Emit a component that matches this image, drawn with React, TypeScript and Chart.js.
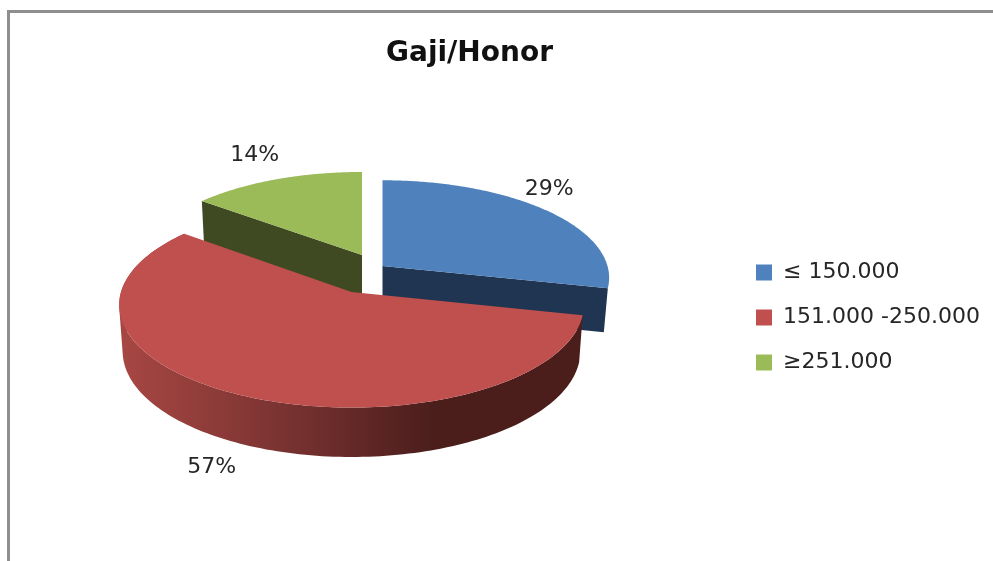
import React, { useEffect, useRef } from "react";
import { Chart, registerables } from "chart.js";

Chart.register(...registerables);

const categories = ["≤ 150.000", "151.000 -250.000", "≥251.000"];
const shares = [28.6, 57.1, 14.3];
const topColors = ["#4F81BD", "#C0504D", "#9BBB59"];
const sideColors = ["#1F3552", "#4B1E1C", "#3F4A22"];
const chartTitle = "Gaji/Honor";

// Projection of the unit pie onto the tilted 3D view, one per exploded slice
const views = [
  { cx: 382.5, k: 0.12, top: { a: 225, b: 96, y: 266 }, low: { a: 221, b: 96, y: 310 }, label: [3, -21] },
  { cx: 351.5, k: 0.126, top: { a: 230.5, b: 101, y: 292 }, low: { a: 227, b: 104, y: 338 }, label: [-27, 73] },
  { cx: 362, k: 0.12, top: { a: 220, b: 93, y: 255 }, low: { a: 216, b: 92, y: 312 }, label: [-21, -24] },
];
const drawOrder = [2, 0, 1];
const FONT = '"DejaVu Sans", sans-serif';

type Face = { a: number; b: number; y: number };
function project(cx: number, k: number, f: Face, theta: number, r = 1): [number, number] {
  const u = Math.sin(theta) * r;
  const v = -Math.cos(theta) * r;
  const w = 1 - k * v;
  return [cx + (f.a * u) / w, f.y + (f.b * v) / w];
}

const pie3d = {
  id: "pie3d",
  afterLayout(chart: any) {
    const t = chart.titleBlock;
    t.left = 69.5;
    t.right = 869.5;
    t.top = 54 - t.height / 2;
    t.bottom = t.top + t.height;
    const l = chart.legend;
    const w = l.width;
    const h = l.height;
    l.left = 733;
    l.right = 733 + w;
    l.top = 317.5 - h / 2;
    l.bottom = l.top + h;
  },
  beforeDatasetDraw(chart: any, args: any) {
    const ctx: CanvasRenderingContext2D = chart.ctx;
    const arcs = args.meta.data;
    for (const i of drawOrder) {
      const arc = arcs[i];
      const view = views[i];
      const s = arc.startAngle + Math.PI / 2;
      const e = arc.endAngle + Math.PI / 2;
      const steps = 160;
      const rim = (f: Face) => {
        const pts: [number, number][] = [];
        for (let n = 0; n <= steps; n++) pts.push(project(view.cx, view.k, f, s + ((e - s) * n) / steps));
        return pts;
      };
      const topRim = rim(view.top);
      const lowRim = rim(view.low);
      if (i === 1) {
        const g = ctx.createLinearGradient(118, 0, 450, 0);
        g.addColorStop(0, "#A84743");
        g.addColorStop(0.45, "#7E3533");
        g.addColorStop(0.95, sideColors[1]);
        ctx.fillStyle = g;
        ctx.beginPath();
        // sweep the rim downward so the outline is the full extruded silhouette
        for (let n = 0; n < steps; n++) {
          const q = [topRim[n], topRim[n + 1], lowRim[n + 1], lowRim[n]];
          let area = 0;
          q.forEach((p, j) => {
            const o = q[(j + 1) % 4];
            area += p[0] * o[1] - o[0] * p[1];
          });
          const poly = area < 0 ? [...q].reverse() : q;
          ctx.moveTo(poly[0][0], poly[0][1]);
          for (let j = 1; j < 4; j++) ctx.lineTo(poly[j][0], poly[j][1]);
          ctx.closePath();
        }
        ctx.fill();
      } else {
        // the cut face that looks at the viewer
        const idx = i === 0 ? steps : 0;
        ctx.fillStyle = sideColors[i];
        ctx.beginPath();
        ctx.moveTo(view.cx, view.top.y);
        ctx.lineTo(topRim[idx][0], topRim[idx][1]);
        ctx.lineTo(lowRim[idx][0], lowRim[idx][1]);
        ctx.lineTo(view.cx, view.low.y);
        ctx.closePath();
        ctx.fill();
      }
      ctx.fillStyle = topColors[i];
      ctx.beginPath();
      ctx.moveTo(view.cx, view.top.y);
      topRim.forEach((p) => ctx.lineTo(p[0], p[1]));
      ctx.closePath();
      ctx.fill();
    }
    return false;
  },
  afterDatasetsDraw(chart: any) {
    const ctx: CanvasRenderingContext2D = chart.ctx;
    const arcs = chart.getDatasetMeta(0).data;
    ctx.save();
    ctx.font = `22px ${FONT}`;
    ctx.fillStyle = "#262626";
    ctx.textAlign = "center";
    ctx.textBaseline = "middle";
    arcs.forEach((arc: any, i: number) => {
      const view = views[i];
      const mid = (arc.startAngle + arc.endAngle) / 2 + Math.PI / 2;
      const [x, y] = project(view.cx, view.k, view.top, mid);
      ctx.fillText(`${Math.round(shares[i])}%`, x + view.label[0], y + view.label[1]);
    });
    ctx.restore();
  },
};

export default function App() {
  const ref = useRef<HTMLCanvasElement>(null);
  useEffect(() => {
    document.body.style.margin = "0";
    document.body.style.overflow = "hidden";
    const chart = new Chart(ref.current!, {
      type: "pie",
      data: {
        labels: categories,
        datasets: [{ data: shares, backgroundColor: topColors, borderWidth: 0 }],
      },
      options: {
        responsive: false,
        animation: false,
        devicePixelRatio: 1,
        plugins: {
          title: {
            display: true,
            text: chartTitle,
            color: "#111111",
            padding: 0,
            font: { family: FONT, size: 28, weight: "bold" },
          },
          legend: {
            position: "right",
            labels: {
              boxWidth: 16,
              boxHeight: 16,
              padding: 23,
              color: "#262626",
              font: { family: FONT, size: 22 },
            },
          },
          tooltip: { enabled: false },
        },
      },
      plugins: [pie3d],
    } as any);
    return () => chart.destroy();
  }, []);
  return (
    <div style={{ position: "absolute", left: 0, top: 0, width: 993, height: 561, overflow: "hidden", background: "#fff" }}>
      <canvas ref={ref} width={993} height={561} style={{ position: "absolute", left: 0, top: 0, filter: "blur(0.5px)" }} />
      <div
        style={{
          position: "absolute",
          left: 7,
          top: 10,
          width: 990,
          height: 560,
          borderTop: "3px solid #8E8E8E",
          borderLeft: "3px solid #8E8E8E",
          boxSizing: "border-box",
        }}
      />
    </div>
  );
}
